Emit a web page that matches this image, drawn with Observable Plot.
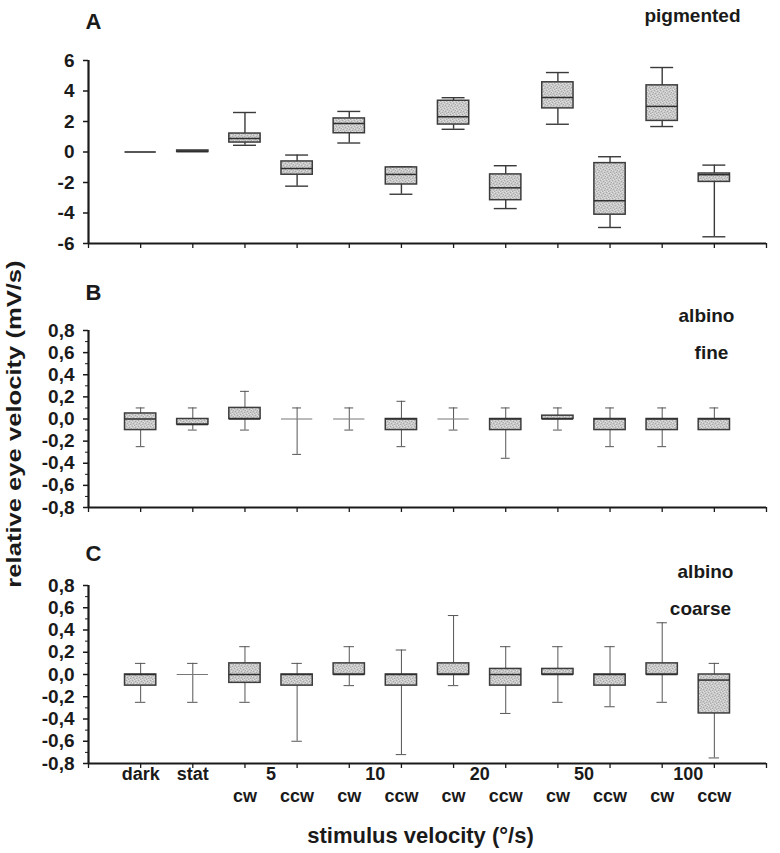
<!DOCTYPE html>
<html>
<head>
<meta charset="utf-8">
<script src="https://cdn.jsdelivr.net/npm/d3@7"></script>
<script src="https://cdn.jsdelivr.net/npm/@observablehq/plot@0.6"></script>
<style>
  body { margin: 0; background: #fff; font-family: "Liberation Sans", Arial, sans-serif; }
  #wrap { position: relative; width: 780px; height: 853px; overflow: hidden; background: #fff; }
  .panel { position: absolute; left: 0; }
  #ylab { position: absolute; left: 14px; top: 424px; font-weight: bold; font-size: 20px; white-space: nowrap;
          color: #1a1a1a; transform: translate(-50%, -50%) rotate(-90deg) scaleX(1.28); }
</style>
</head>
<body>
<div id="wrap"><div id="ylab">relative eye velocity (mV/s)</div></div>
<script>
// ---------- data ----------
const categories = ["dark", "stat", "5 cw", "5 ccw", "10 cw", "10 ccw", "20 cw", "20 ccw", "50 cw", "50 ccw", "100 cw", "100 ccw"];
const speeds = ["5", "10", "20", "50", "100"];
const directions = ["cw", "ccw"];

// A: pigmented
const pigMin = [0, 0, 0.44, -2.24, 0.59, -2.77, 1.49, -3.71, 1.82, -4.95, 1.67, -5.56];
const pigQ1  = [0, 0, 0.62, -1.49, 1.23, -2.13, 1.80, -3.16, 2.86, -4.11, 2.04, -1.96];
const pigMed = [0, 0.03, 0.88, -1.08, 1.87, -1.47, 2.31, -2.35, 3.58, -3.19, 2.99, -1.49];
const pigQ3  = [0, 0.1, 1.21, -0.62, 2.20, -1.01, 3.36, -1.47, 4.57, -0.73, 4.37, -1.41];
const pigMax = [0, 0.1, 2.59, -0.20, 2.66, -0.97, 3.56, -0.90, 5.21, -0.31, 5.54, -0.86];

// B: albino fine
const fineMin = [-0.25, -0.10, -0.10, -0.32, -0.10, -0.25, -0.10, -0.355, -0.10, -0.25, -0.25, -0.10];
const fineQ1  = [-0.10, -0.05, 0, 0, 0, -0.10, 0, -0.10, 0, -0.10, -0.10, -0.10];
const fineMed = [0, -0.05, 0, 0, 0, 0, 0, 0, 0, 0, 0, 0];
const fineQ3  = [0.05, 0, 0.10, 0, 0, 0, 0, 0, 0.03, 0, 0, 0];
const fineMax = [0.10, 0.10, 0.25, 0.10, 0.10, 0.16, 0.10, 0.10, 0.10, 0.10, 0.10, 0.10];

// C: albino coarse
const coarseMin = [-0.25, -0.25, -0.25, -0.60, -0.10, -0.72, -0.10, -0.35, -0.25, -0.29, -0.25, -0.75];
const coarseQ1  = [-0.10, 0, -0.075, -0.10, 0, -0.10, 0, -0.10, 0, -0.10, 0, -0.35];
const coarseMed = [0, 0, 0, 0, 0, 0, 0, 0, 0, 0, 0, -0.05];
const coarseQ3  = [0, 0, 0.10, 0, 0.10, 0, 0.10, 0.05, 0.05, 0, 0.10, 0];
const coarseMax = [0.10, 0.10, 0.25, 0.10, 0.25, 0.22, 0.53, 0.25, 0.25, 0.25, 0.465, 0.10];

// ticks
const pigTicks = [-6, -4, -2, 0, 2, 4, 6];
const albTicks = [-0.8, -0.6, -0.4, -0.2, 0, 0.2, 0.4, 0.6, 0.8];
const albMinor = [-0.7, -0.5, -0.3, -0.1, 0.1, 0.3, 0.5, 0.7];

// ---------- drawing ----------
const ink = "#1a1a1a";
const commaFmt = d => d3.format(".1f")(d).replace("−", "-").replace(".", ",");
// stipple texture tile (style only)
const stippleDark = [[0,0],[3,1],[1,3],[4,4],[2,5],[5,2]];
const stippleLight = [[2,0],[5,1],[0,2],[3,3],[1,5],[4,5]];

function panel(o) {
  const rows = categories.map((c, k) => ({cat: c, pos: k + 1, min: o.min[k], q1: o.q1[k], med: o.med[k], q3: o.q3[k], max: o.max[k]}));
  const boxes = rows.filter(d => d.q3 > d.q1);
  const flats = rows.filter(d => d.q3 === d.q1);
  const hw = 0.3;
  const pid = "stip-" + o.id;
  const marks = [
    Plot.ruleX(rows, {x: "pos", y1: "q3", y2: "max", stroke: o.wStroke, strokeWidth: o.wWidth}),
    Plot.ruleX(rows, {x: "pos", y1: "min", y2: "q1", stroke: o.wStroke, strokeWidth: o.wWidth}),
    Plot.ruleY(rows.filter(d => d.max > d.q3), {y: "max", x1: d => d.pos - o.cap, x2: d => d.pos + o.cap, stroke: o.wStroke, strokeWidth: o.wWidth}),
    Plot.ruleY(rows.filter(d => d.min < d.q1), {y: "min", x1: d => d.pos - o.cap, x2: d => d.pos + o.cap, stroke: o.wStroke, strokeWidth: o.wWidth}),
    Plot.rect(boxes, {x1: d => d.pos - hw, x2: d => d.pos + hw, y1: "q1", y2: "q3", fill: `url(#${pid})`, stroke: "#3c3c3c", strokeWidth: 1.5}),
    Plot.ruleY(boxes, {y: "med", x1: d => d.pos - hw, x2: d => d.pos + hw, stroke: "#2e2e2e", strokeWidth: 1.5}),
    Plot.ruleY(flats, {y: "med", x1: d => d.pos - hw, x2: d => d.pos + hw, stroke: o.fStroke, strokeWidth: o.fWidth}),
    o.minor ? Plot.axisY({ticks: o.minor, tickSize: 3, tickFormat: () => "", label: null, stroke: ink}) : null,
    Plot.axisY({ticks: o.ticks, tickSize: 5, tickPadding: 9, tickFormat: o.fmt, label: null, fontSize: 19, fontWeight: "bold", fill: ink, stroke: ink, strokeWidth: 1.5}),
    Plot.axisX({ticks: d3.range(0, 14), tickSize: 5, tickFormat: () => "", label: null, stroke: ink, strokeWidth: 1.3}),
    Plot.ruleX([0], {stroke: ink, strokeWidth: 2.2}),
    Plot.ruleY([o.domain[0]], {stroke: ink, strokeWidth: 2.2}),
    ...o.extra
  ];
  const svg = Plot.plot({
    width: 780, height: o.height,
    marginLeft: 88, marginRight: 14, marginTop: o.marginTop, marginBottom: o.marginBottom,
    style: {fontFamily: "'Liberation Sans', Arial, sans-serif", background: "transparent", color: ink, overflow: "visible"},
    x: {domain: [0, 13], axis: null},
    y: {domain: o.domain, axis: null},
    marks
  });
  const pat = d3.select(svg).insert("defs", ":first-child").append("pattern")
    .attr("id", pid).attr("width", 6).attr("height", 6).attr("patternUnits", "userSpaceOnUse");
  pat.append("rect").attr("width", 6).attr("height", 6).attr("fill", "#c8c8c8");
  stippleDark.forEach(([a, b]) => pat.append("rect").attr("x", a).attr("y", b).attr("width", 1).attr("height", 1).attr("fill", "#a9a9a9"));
  stippleLight.forEach(([a, b]) => pat.append("rect").attr("x", a).attr("y", b).attr("width", 1).attr("height", 1).attr("fill", "#e2e2e2"));
  return svg;
}

const lbl = (t, opts) => Plot.text([t], {fontWeight: "bold", fill: ink, lineAnchor: "middle", textAnchor: "middle", ...opts});

const xTop = [{label: "dark", pos: 1}, {label: "stat", pos: 2},
  ...speeds.map((s, k) => ({label: s, pos: 3.5 + 2 * k}))];
const xBottom = speeds.flatMap((s, k) => directions.map((d, j) => ({label: d, pos: 3 + 2 * k + j})));

const A = panel({
  id: "A",
  min: pigMin, q1: pigQ1, med: pigMed, q3: pigQ3, max: pigMax,
  domain: [-6, 6], ticks: pigTicks, minor: null, fmt: d => String(d),
  height: 260, marginTop: 60, marginBottom: 17, cap: 0.22,
  wStroke: "#3a3a3a", wWidth: 1.4, fStroke: "#2e2e2e", fWidth: 1.6,
  extra: [
    lbl("A", {frameAnchor: "top-left", textAnchor: "start", dx: -3, dy: -39, fontSize: 22}),
    lbl("pigmented", {frameAnchor: "top-right", textAnchor: "end", dx: -26, dy: -45, fontSize: 19})
  ]
});
const B = panel({
  id: "B",
  min: fineMin, q1: fineQ1, med: fineMed, q3: fineQ3, max: fineMax,
  domain: [-0.8, 0.8], ticks: albTicks, minor: albMinor, fmt: commaFmt,
  height: 260, marginTop: 60, marginBottom: 23, cap: 0.085,
  wStroke: "#555", wWidth: 1, fStroke: "#777", fWidth: 1,
  extra: [
    lbl("B", {frameAnchor: "top-left", textAnchor: "start", dx: -3, dy: -38, fontSize: 22}),
    lbl("albino", {frameAnchor: "top-right", dx: -60, dy: -15, fontSize: 19}),
    lbl("fine", {frameAnchor: "top-right", dx: -55, dy: 22, fontSize: 19})
  ]
});
const C = panel({
  id: "C",
  min: coarseMin, q1: coarseQ1, med: coarseMed, q3: coarseQ3, max: coarseMax,
  domain: [-0.8, 0.8], ticks: albTicks, minor: albMinor, fmt: commaFmt,
  height: 323, marginTop: 55, marginBottom: 90, cap: 0.1,
  wStroke: "#555", wWidth: 1, fStroke: "#777", fWidth: 1,
  extra: [
    lbl("C", {frameAnchor: "top-left", textAnchor: "start", dx: -3, dy: -32, fontSize: 22}),
    lbl("albino", {frameAnchor: "top-right", dx: -61, dy: -14, fontSize: 19}),
    lbl("coarse", {frameAnchor: "top-right", dx: -66, dy: 23, fontSize: 19}),
    Plot.text(xTop, {x: "pos", text: "label", frameAnchor: "bottom", lineAnchor: "middle", dy: 11, fontSize: 18, fontWeight: "bold", fill: ink}),
    Plot.text(xBottom, {x: "pos", text: "label", frameAnchor: "bottom", lineAnchor: "middle", dy: 33, fontSize: 18, fontWeight: "bold", fill: ink}),
    lbl("stimulus velocity (°/s)", {frameAnchor: "bottom", dx: -7, dy: 72, fontSize: 22})
  ]
});

const wrap = document.getElementById("wrap");
[[A, 0], [B, 270], [C, 530]].forEach(([svg, top]) => {
  svg.classList.add("panel");
  svg.style.top = top + "px";
  wrap.appendChild(svg);
});
</script>
</body>
</html>
